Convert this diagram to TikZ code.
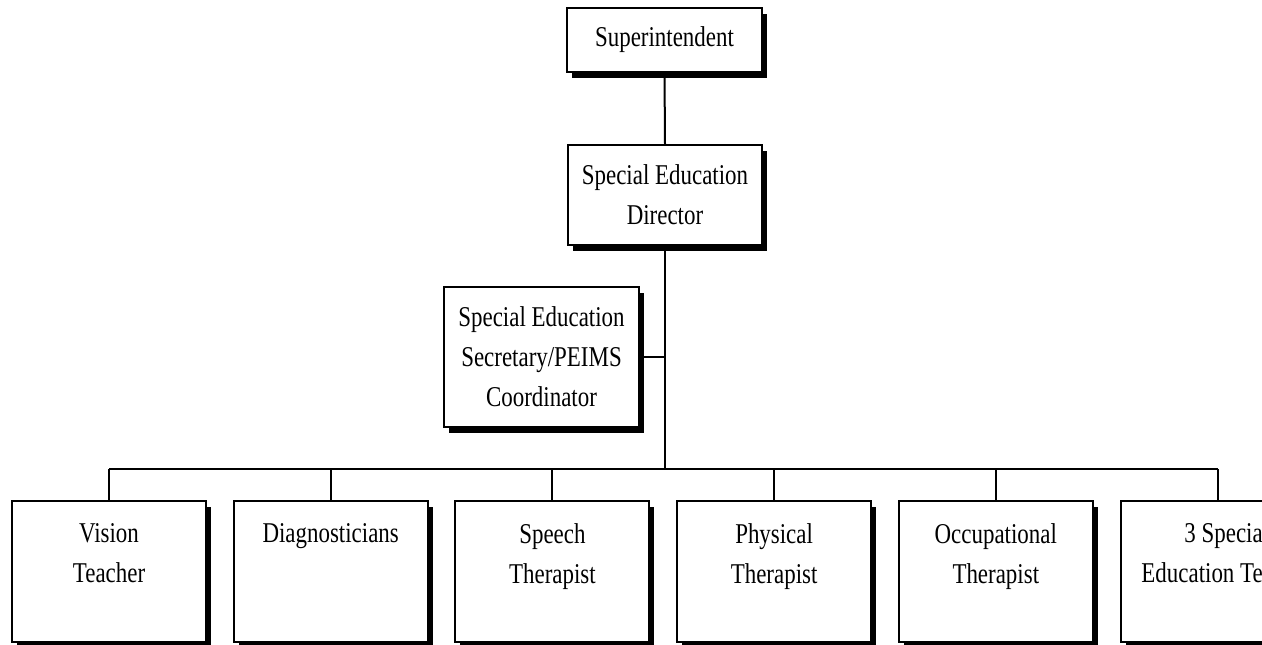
\documentclass[tikz,border=0pt]{standalone}
\usepackage{fontspec}
\setmainfont{Liberation Serif}[FakeStretch=0.8]
\usetikzlibrary{shadows}
\begin{document}
\begin{tikzpicture}[x=0.75pt,y=-0.75pt,
  box/.style={draw, line width=1.5pt, fill=white, inner sep=0pt, outer sep=0pt,
    drop shadow={shadow xshift=3.75pt, shadow yshift=-4.5pt, fill=black, opacity=1}},
  lbl/.style={font=\fontsize{21.5}{30}\selectfont, align=center, inner sep=0pt},
  lowbox/.style={box, minimum width=145.5pt, minimum height=105.75pt},
  conn/.style={line width=1.5pt}]
\useasboundingbox (0,0) rectangle (1262,645);
\clip (0,0) rectangle (1262,645);
% top boxes
\node[box, lbl, minimum width=146.25pt, minimum height=48pt] (sup) at (664.5,40) {Superintendent};
\node[box, lbl, minimum width=145.5pt, minimum height=75pt] (dir) at (665,195) {Special Education\\Director};
\node[box, lbl, minimum width=146.25pt, minimum height=105pt] (sec) at (541.5,357) {Special Education\\Secretary/PEIMS\\Coordinator};
% bottom boxes
\node[lowbox] (b1) at (109,571.5) {};
\node[lowbox] (b2) at (330.7,571.5) {};
\node[lowbox] (b3) at (552.4,571.5) {};
\node[lowbox] (b4) at (774.1,571.5) {};
\node[lowbox] (b5) at (995.8,571.5) {};
\node[lowbox] (b6) at (1217.5,571.5) {};
\node[lbl, anchor=north] (t1) at (109,523) {Vision\\Teacher};
\node[lbl, anchor=north] (t2) at (330.7,523) {Diagnosticians};
\node[lbl, anchor=north] (t3) at (552.4,523) {Speech\\Therapist};
\node[lbl, anchor=north] (t4) at (774.1,523) {Physical\\Therapist};
\node[lbl, anchor=north] (t5) at (995.8,523) {Occupational\\Therapist};
\node[lbl, align=right, anchor=north east] (t6) at (1263,523) {3 Specia\\Education Te};
% connectors
\coordinate (bus) at (665,469);
\draw[conn] (sup.south) -- (dir.north);
\draw[conn] (dir.south) -- (bus);
\draw[conn] (sec.east) -- (sec.east -| dir.south);
\draw[conn] (b1.north |- bus) -- (b6.north |- bus);
\foreach \b in {b1,b2,b3,b4,b5,b6} \draw[conn] (\b.north) -- (\b.north |- bus);
\end{tikzpicture}
\end{document}
